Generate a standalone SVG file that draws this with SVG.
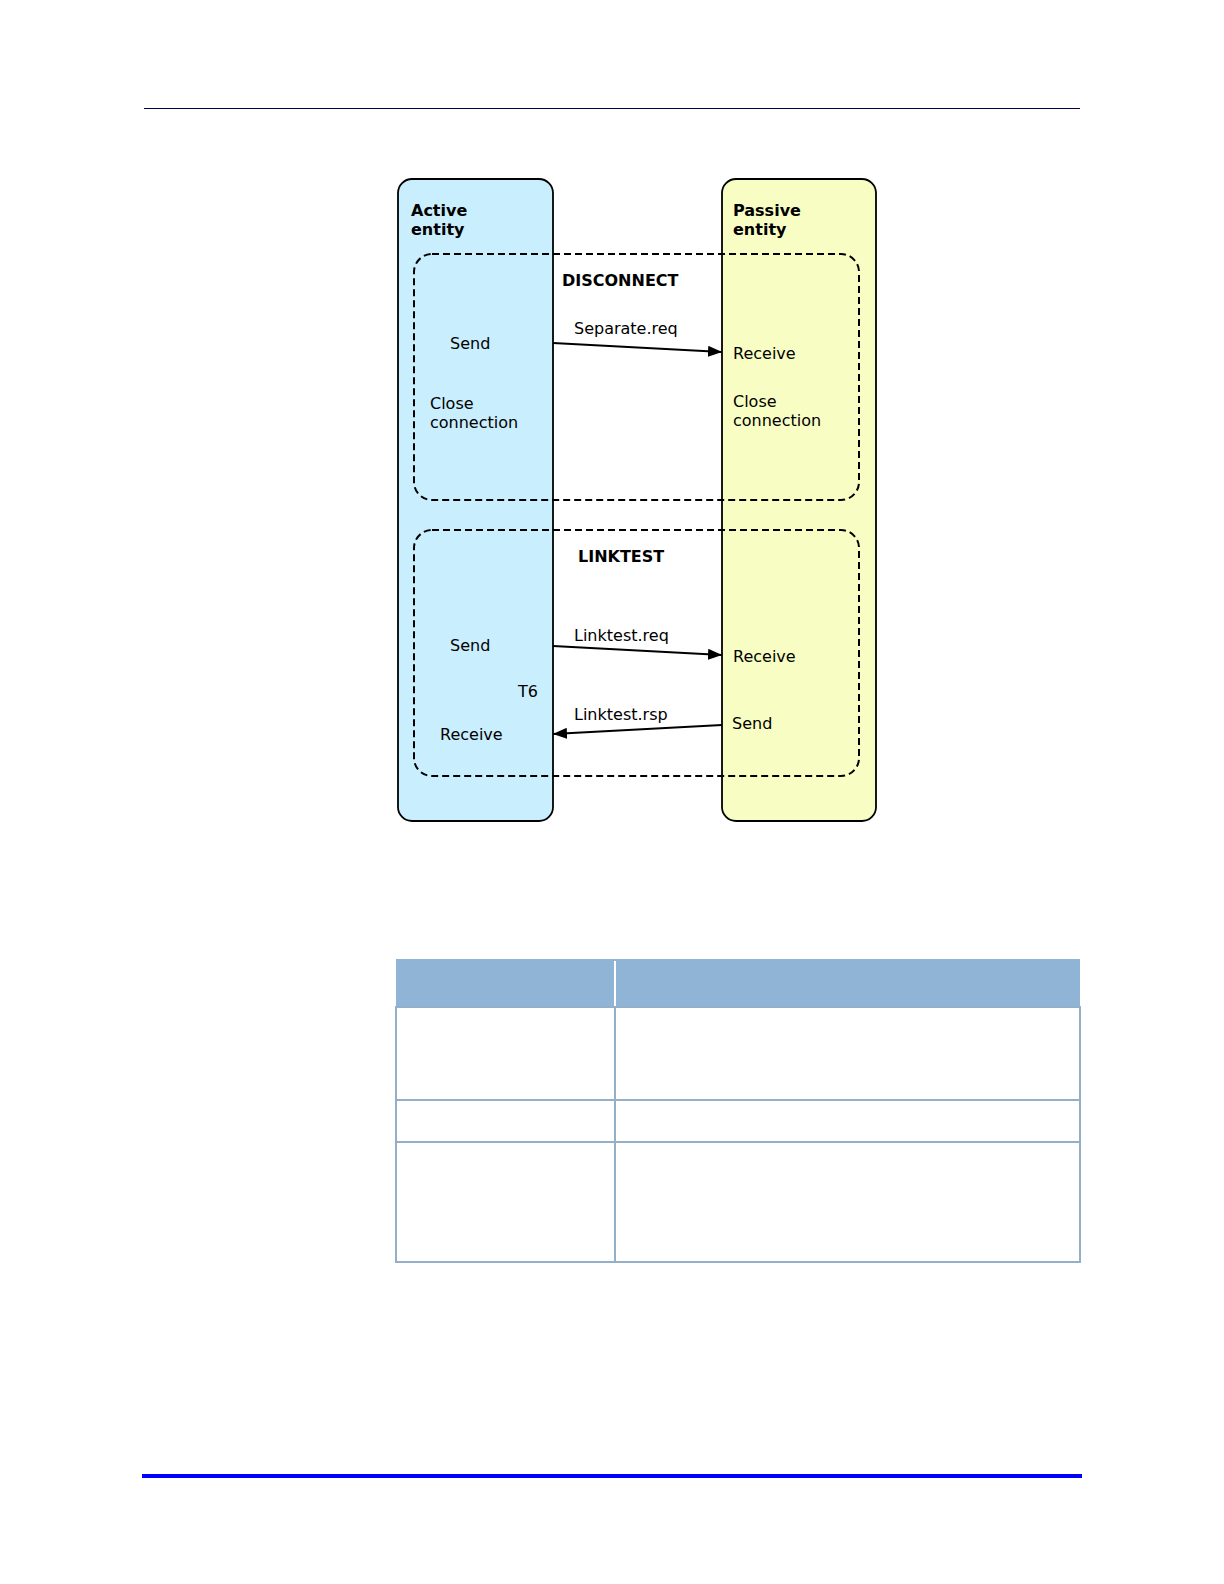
<svg xmlns="http://www.w3.org/2000/svg" width="1224" height="1584" viewBox="0 0 1224 1584">
<style>
.t{font-family:"DejaVu Sans",Verdana,sans-serif;font-size:16px;fill:#000}
.b{font-weight:bold}
.lane{stroke:#000;stroke-width:1.8}
.dash{fill:none;stroke:#000;stroke-width:2;stroke-dasharray:7 4}
.msg{stroke:#000;stroke-width:2.2;fill:none;marker-end:url(#ah)}
.grid{stroke:#94b0c8;stroke-width:2;fill:none}
</style>
<defs>
<marker id="ah" viewBox="0 0 14 11" refX="14" refY="5.5" markerWidth="14" markerHeight="11" markerUnits="userSpaceOnUse" orient="auto">
<path d="M0,0 L14,5.5 L0,11 z" fill="#000"/>
</marker>
</defs>
<rect width="1224" height="1584" fill="#fff"/>
<line x1="144" y1="108.5" x2="1080" y2="108.5" stroke="#000050" stroke-width="1.2"/>
<line x1="142" y1="1476" x2="1082" y2="1476" stroke="#0000ff" stroke-width="4"/>

<g id="active-entity">
<rect class="lane" x="398" y="179" width="155" height="642" rx="14" fill="#c9eefd"/>
<text class="t b" x="411" y="216">Active</text>
<text class="t b" x="411" y="235">entity</text>
</g>
<g id="passive-entity">
<rect class="lane" x="722" y="179" width="154" height="642" rx="14" fill="#f8fec3"/>
<text class="t b" x="733" y="216">Passive</text>
<text class="t b" x="733" y="235">entity</text>
</g>

<g id="disconnect">
<rect class="dash" x="414" y="254" width="445" height="246" rx="18"/>
<text class="t b" x="562" y="286" font-size="15.5">DISCONNECT</text>
<text class="t" x="450" y="349">Send</text>
<text class="t" x="430" y="409">Close</text>
<text class="t" x="430" y="428">connection</text>
<text class="t" x="733" y="359">Receive</text>
<text class="t" x="733" y="407">Close</text>
<text class="t" x="733" y="426">connection</text>
</g>

<g id="linktest">
<rect class="dash" x="414" y="530" width="445" height="246" rx="18"/>
<text class="t b" x="578" y="562" font-size="15.5">LINKTEST</text>
<text class="t" x="450" y="651">Send</text>
<text class="t" x="518" y="697">T6</text>
<text class="t" x="440" y="740">Receive</text>
<text class="t" x="733" y="662">Receive</text>
<text class="t" x="732" y="729">Send</text>
</g>

<g id="connectors">
<line class="msg" x1="553" y1="343" x2="722" y2="352"/>
<text class="t" x="574" y="334">Separate.req</text>
<line class="msg" x1="553" y1="646" x2="722" y2="655"/>
<text class="t" x="574" y="641">Linktest.req</text>
<line class="msg" x1="722" y1="725" x2="553" y2="734"/>
<text class="t" x="574" y="720">Linktest.rsp</text>
</g>

<g id="table">
<rect x="396" y="959" width="684" height="48" fill="#8fb4d6"/>
<line x1="615" y1="961" x2="615" y2="1006" stroke="#fff" stroke-width="2"/>
<rect class="grid" x="396" y="1007" width="684" height="255"/>
<line class="grid" x1="396" y1="1100" x2="1080" y2="1100"/>
<line class="grid" x1="396" y1="1142" x2="1080" y2="1142"/>
<line class="grid" x1="615" y1="1007" x2="615" y2="1262"/>
</g>
</svg>
